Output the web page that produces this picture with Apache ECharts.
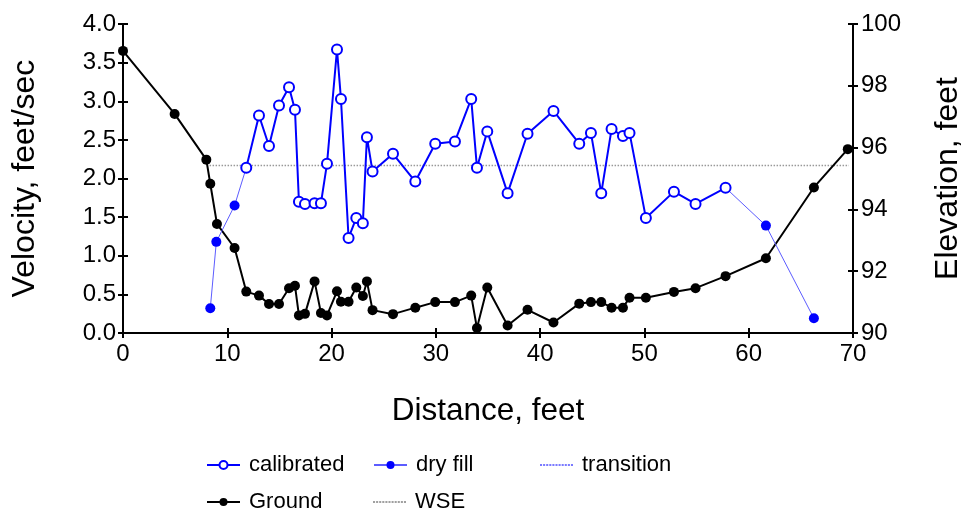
<!DOCTYPE html>
<html>
<head>
<meta charset="utf-8">
<script src="https://cdn.jsdelivr.net/npm/echarts@6/dist/echarts.min.js"></script>
<style>html,body{margin:0;padding:0;background:#fff}#c{width:963px;height:515px}</style>
</head>
<body>
<div id="c"></div>
<script>
// Distance (ft) and velocity (ft/s) of calibrated points
const calX = [11.82,13.04,14.0,14.96,15.92,16.49,16.87,17.45,18.37,18.98,19.56,20.52,20.9,21.63,22.37,23.0,23.39,23.93,25.89,28.03,29.94,31.83,33.39,33.94,34.93,36.88,38.79,41.28,43.75,44.87,45.86,46.85,47.94,48.57,50.14,52.83,54.9,57.78];
const calV = [2.14,2.815,2.42,2.945,3.18,2.89,1.70,1.67,1.68,1.68,2.19,3.67,3.03,1.23,1.49,1.42,2.535,2.09,2.32,1.96,2.45,2.48,3.03,2.14,2.61,1.81,2.58,2.875,2.45,2.59,1.81,2.64,2.55,2.59,1.49,1.83,1.67,1.88];
// Dry fill points (left bank, right bank)
const dryLeftX = [8.37,8.95,10.7];
const dryLeftV = [0.32,1.18,1.65];
const dryRightX = [61.65,66.25];
const dryRightV = [1.39,0.19];
// Transition segments (dry fill <-> calibrated)
const transLeftX = [10.7,11.82];
const transLeftV = [1.65,2.14];
const transRightX = [57.78,61.65];
const transRightV = [1.88,1.39];
// Ground profile: distance (ft) and elevation (ft)
const groundX = [0,4.95,7.99,8.37,9.01,10.7,11.82,13.04,14.0,14.96,15.92,16.49,16.87,17.45,18.37,18.98,19.56,20.52,20.9,21.63,22.37,23.0,23.39,23.93,25.89,28.03,29.94,31.83,33.39,33.94,34.93,36.88,38.79,41.28,43.75,44.87,45.86,46.85,47.94,48.57,50.14,52.83,54.9,57.78,61.65,66.25,69.5];
const groundE = [99.13,97.09,95.61,94.83,93.53,92.75,91.34,91.21,90.94,90.94,91.45,91.53,90.57,90.62,91.67,90.65,90.57,91.35,91.01,91.01,91.47,91.2,91.67,90.74,90.61,90.82,91.0,91.0,91.21,90.16,91.47,90.24,90.75,90.34,90.95,91.0,91.0,90.82,90.82,91.14,91.14,91.33,91.45,91.84,92.42,94.71,95.95];
// Water surface elevation
const wseX = [8.3,69.6];
const wseE = [95.42,95.42];
// Axis ticks
const xTicks = {min:0,max:70,interval:10};
const vTicks = {min:0,max:4,interval:0.5};
const eTicks = {min:90,max:100,interval:2};

const zip = (a,b) => a.map((v,i)=>[v,b[i]]);
const FONT = 'Liberation Sans, Arial, sans-serif';
const BLUE = '#0000ff';
const TBLUE = '#5c5cff';

// dotted legend icon (style only)
let dots = '';
for (let i = 0; i < 33; i += 3) dots += 'M' + i + ',0h2v2h-2z ';
const dotIcon = 'path://' + dots;

const chart = echarts.init(document.getElementById('c'), null, {renderer:'canvas'});
const axLine = {show:true, onZero:false, lineStyle:{color:'#000', width:2}};
const noLine = {show:false, onZero:false};
const tickOut = {show:true, inside:false, length:5, lineStyle:{color:'#000', width:2}};
const tickIn = {show:true, inside:true, length:5, lineStyle:{color:'#000', width:2}};
const lab = {fontSize:24, color:'#000', fontFamily:FONT};
const nameStyle = {fontSize:32, color:'#000', fontFamily:FONT};

const legendBase = {orient:'horizontal', padding:0, itemWidth:33, itemHeight:10, symbolKeepAspect:false,
  textStyle:{fontSize:22, color:'#000', fontFamily:FONT, padding:[0,0,0,4]}, selectedMode:false};

chart.setOption({
  animation:false,
  backgroundColor:'#fff',
  grid:{left:123, right:110, top:24, bottom:182, containLabel:false, outerBoundsMode:'none'},
  xAxis:[
    {type:'value', min:xTicks.min, max:xTicks.max, interval:xTicks.interval, position:'bottom',
     axisLine:axLine, axisTick:tickOut, splitLine:{show:false},
     axisLabel:Object.assign({margin:9}, lab),
     name:'Distance, feet', nameLocation:'middle', nameGap:62,
     nameTextStyle:Object.assign({}, nameStyle, {fontSize:31.5})},
    {type:'value', min:xTicks.min, max:xTicks.max, interval:xTicks.interval, position:'bottom',
     axisLine:noLine, axisTick:tickIn, splitLine:{show:false}, axisLabel:{show:false}}
  ],
  yAxis:[
    {type:'value', min:vTicks.min, max:vTicks.max, interval:vTicks.interval, position:'left',
     axisLine:axLine, axisTick:tickOut, splitLine:{show:false},
     axisLabel:Object.assign({margin:7, formatter:v=>v.toFixed(1)}, lab),
     name:'Velocity, feet/sec', nameLocation:'middle', nameGap:82, nameTextStyle:nameStyle},
    {type:'value', min:eTicks.min, max:eTicks.max, interval:eTicks.interval, position:'right',
     axisLine:axLine, axisTick:tickOut, splitLine:{show:false},
     axisLabel:Object.assign({margin:8}, lab),
     name:'Elevation, feet', nameLocation:'middle', nameGap:79, nameTextStyle:nameStyle},
    {type:'value', min:vTicks.min, max:vTicks.max, interval:vTicks.interval, position:'left',
     axisLine:noLine, axisTick:tickIn, splitLine:{show:false}, axisLabel:{show:false}},
    {type:'value', min:eTicks.min, max:eTicks.max, interval:eTicks.interval, position:'right',
     axisLine:noLine, axisTick:tickIn, splitLine:{show:false}, axisLabel:{show:false}}
  ],
  legend:[
    Object.assign({}, legendBase, {left:206, top:454, data:['calibrated']}),
    Object.assign({}, legendBase, {left:373, top:454, data:['dry fill']}),
    Object.assign({}, legendBase, {left:540, top:454, itemHeight:2, data:[{name:'transition', icon:dotIcon}]}),
    Object.assign({}, legendBase, {left:206, top:491, data:['Ground']}),
    Object.assign({}, legendBase, {left:373, top:491, itemHeight:2, data:[{name:'WSE', icon:dotIcon}]})
  ],
  series:[
    {name:'WSE', type:'line', yAxisIndex:1, data:zip(wseX,wseE), symbol:'none',
     lineStyle:{color:'#999', width:1.5, type:'dotted'}, itemStyle:{color:'#a0a0a0'}, z:1},
    {name:'Ground', type:'line', yAxisIndex:1, data:zip(groundX,groundE), symbol:'circle', symbolSize:10,
     lineStyle:{color:'#000', width:2}, itemStyle:{color:'#000'}, z:2},
    {name:'transition', type:'line', yAxisIndex:0, data:zip(transLeftX,transLeftV), symbol:'none',
     lineStyle:{color:TBLUE, width:1}, itemStyle:{color:'#7a7aff'}, z:3},
    {name:'transition', type:'line', yAxisIndex:0, data:zip(transRightX,transRightV), symbol:'none',
     lineStyle:{color:TBLUE, width:1}, itemStyle:{color:'#7a7aff'}, z:3},
    {name:'dry fill', type:'line', yAxisIndex:0, data:zip(dryLeftX,dryLeftV), symbol:'circle', symbolSize:10,
     lineStyle:{color:TBLUE, width:1}, itemStyle:{color:BLUE}, z:4},
    {name:'dry fill', type:'line', yAxisIndex:0, data:zip(dryRightX,dryRightV), symbol:'circle', symbolSize:10,
     lineStyle:{color:TBLUE, width:1}, itemStyle:{color:BLUE}, z:4},
    {name:'calibrated', type:'line', yAxisIndex:0, data:zip(calX,calV), symbol:'emptyCircle', symbolSize:10,
     lineStyle:{color:BLUE, width:2}, itemStyle:{color:BLUE, borderWidth:2}, z:5}
  ]
});
</script>
</body>
</html>
